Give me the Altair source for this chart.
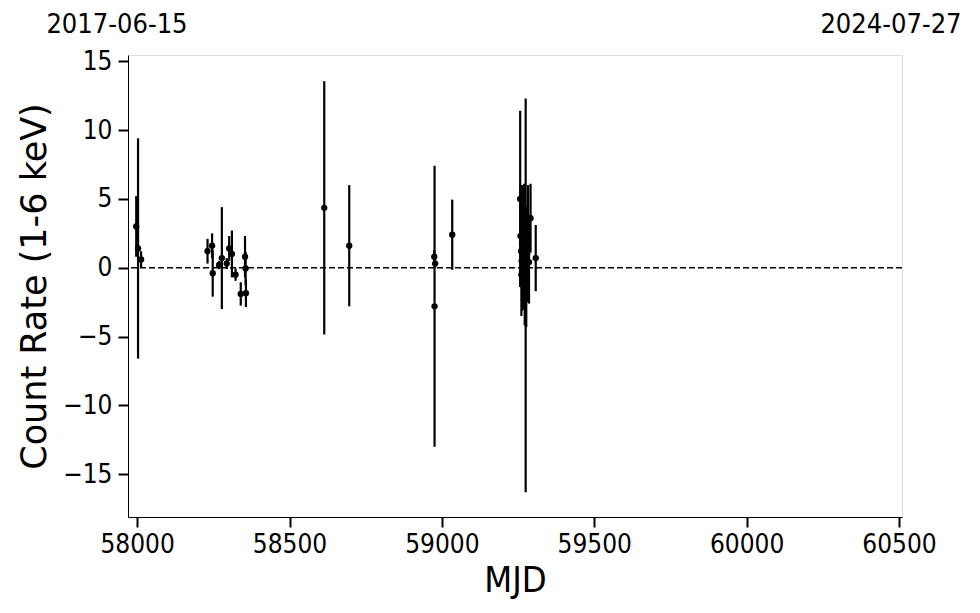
import altair as alt
import pandas as pd

# MJD, count rate, 1-sigma error
mjd = [57997, 58003, 58013,
       58231, 58246, 58248, 58269, 58278, 58294, 58302, 58311, 58323, 58340, 58354, 58356, 58357,
       58614, 58696,
       58975, 58978, 58976, 59034,
       59257, 59258, 59260, 59261, 59262, 59263, 59264, 59265, 59266, 59268, 59270, 59272,
       59275, 59277, 59280, 59283, 59286, 59291, 59308]
rate = [3.0, 1.4, 0.6,
        1.2, 1.6, -0.4, 0.2, 0.7, 0.3, 1.4, 1.0, -0.5, -1.9, 0.8, -0.05, -1.85,
        4.35, 1.6,
        0.8, 0.3, -2.8, 2.4,
        5.0, 2.3, 1.2, -0.5, 0.5, 1.8, 2.4, -0.3, 0.2, 1.5, 2.5, 0.8,
        -2.0, 0.0, 1.0, 2.0, 0.4, 3.6, 0.7]
err = [2.2, 8.0, 0.6,
       0.9, 0.9, 1.7, 0.3, 3.7, 0.4, 0.9, 1.7, 0.45, 0.85, 1.5, 1.2, 1.0,
       9.2, 4.4,
       0.5, 0.3, 10.2, 2.55,
       6.4, 3.7, 2.5, 3.0, 2.0, 4.2, 3.6, 2.8, 3.2, 3.0, 3.6, 5.0,
       14.3, 4.3, 3.5, 4.0, 3.0, 2.5, 2.4]

date_mjd = [57970, 60510]
date_labels = ["2017-06-15", "2024-07-27"]

df = pd.DataFrame({"mjd": mjd, "rate": rate, "err": err})
df["lo"] = df["rate"] - df["err"]
df["hi"] = df["rate"] + df["err"]

FONT = "DejaVu Sans"
CFONT = "DejaVu Sans Condensed, Liberation Sans Narrow, DejaVu Sans"
xscale = alt.Scale(domain=[57970, 60510], nice=False, zero=False)
yscale = alt.Scale(domain=[-18.1, 15.45], nice=False, zero=False)

xaxis = alt.Axis(values=[58000, 58500, 59000, 59500, 60000, 60500], format="d",
                 title="MJD", grid=False, tickSize=10, tickWidth=2, tickColor="black",
                 domainColor="black", labelFontSize=26, labelFont=CFONT, labelColor="black",
                 labelPadding=4, titleFont=CFONT, titleFontSize=36, titleFontWeight="normal",
                 titleColor="black", titlePadding=6)
yaxis = alt.Axis(values=[-15, -10, -5, 0, 5, 10, 15], title="Count Rate (1-6 keV)",
                 labelExpr="datum.value < 0 ? '\u2212' + format(-datum.value, 'd') : format(datum.value, 'd')",
                 grid=False, tickSize=10, tickWidth=2, tickColor="black",
                 domainColor="black", labelFontSize=26, labelFont=CFONT, labelColor="black",
                 labelPadding=6, titleFont=FONT, titleFontSize=35, titleFontWeight="normal",
                 titleColor="black", titlePadding=10)

base = alt.Chart(df)

bars = base.mark_rule(color="black", strokeWidth=2.2).encode(
    x=alt.X("mjd:Q", scale=xscale, axis=xaxis),
    y=alt.Y("lo:Q", scale=yscale, axis=yaxis),
    y2="hi:Q",
)
pts = base.mark_circle(color="black", size=40, opacity=1).encode(
    x=alt.X("mjd:Q", scale=xscale),
    y=alt.Y("rate:Q", scale=yscale),
)
zero = alt.Chart(pd.DataFrame({"z": [0]})).mark_rule(
    color="black", strokeWidth=1.5, strokeDash=[6, 3]
).encode(y=alt.Y("z:Q", scale=yscale))

dates = alt.Chart(pd.DataFrame({"mjd": date_mjd, "label": date_labels})).mark_text(
    font=CFONT, fontSize=27, color="black", align="center", baseline="middle", dx=-11
).encode(
    x=alt.X("mjd:Q", scale=xscale),
    y=alt.value(-30),
    text="label:N",
)

chart = alt.layer(zero, bars, pts, dates).properties(
    width=774, height=462,
    autosize=alt.AutoSizeParams(type="none"),
    padding={"left": 120, "top": 47, "right": 68, "bottom": 88},
).configure_view(stroke="black", strokeWidth=1.2).configure(background="white")

chart.save("out.html", embed_options={"renderer": "svg", "actions": False})
